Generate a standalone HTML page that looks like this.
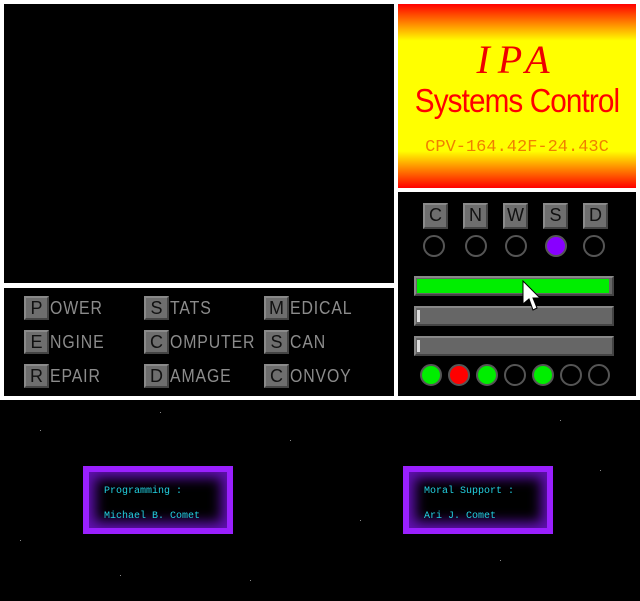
<!DOCTYPE html>
<html><head><style>
body{margin:0;width:640px;height:601px;background:#000;position:relative;overflow:hidden;font-family:"Liberation Mono",monospace}
div{position:absolute;box-sizing:border-box}
.k{width:25px;height:24px;background:#6e6e6e;border:2px solid;border-color:#8a8a8a #444 #444 #8a8a8a;color:#111;font-size:18px;text-align:center;line-height:20px;font-family:"Liberation Sans",sans-serif}
.t{color:#8c8c8c;font-size:18px;line-height:24px;font-family:"Liberation Sans",sans-serif;letter-spacing:1px;transform:scaleX(0.88);transform-origin:left}
.c{width:22px;height:22px;border-radius:50%;border:2px solid #555}
.bar{left:414px;width:200px;height:20px;background:#666;border:2px solid;border-color:#888 #444 #444 #888}
.pb{width:150px;height:68px;background:#000;border:2px solid #9a20ff;box-shadow:inset 0 0 0 4px #9a20ff,inset 0 0 12px 10px #6010b0;color:#22d0e0;font-size:10px}
.s{width:1px;height:1px;background:#888}
</style></head><body>
<div style="left:0;top:0;width:640px;height:400px;background:#fff"></div>
<div style="left:4px;top:4px;width:390px;height:279px;background:#000"></div>
<div style="left:4px;top:288px;width:390px;height:108px;background:#000"></div>
<div style="left:398px;top:4px;width:238px;height:184px;background:linear-gradient(#f00 0%,#ff0 20%,#ff0 80%,#f00 100%)"></div>
<div style="left:398px;top:192px;width:238px;height:204px;background:#000"></div>
<div style="left:398px;top:36px;width:238px;text-align:center;color:#e00;font:italic 40px 'Liberation Serif',serif;letter-spacing:8px">IPA</div>
<div style="left:398px;top:82px;width:238px;text-align:center;color:#f00;font-size:33px;font-family:'Liberation Sans',sans-serif;transform:scaleX(0.9);letter-spacing:-1px">Systems Control</div>
<div style="left:398px;top:138px;width:238px;text-align:center;color:#f08000;font-size:17px">CPV-164.42F-24.43C</div>

<div class="k" style="left:24px;top:296px">P</div><div class="t" style="left:50px;top:296px">OWER</div>
<div class="k" style="left:144px;top:296px">S</div><div class="t" style="left:170px;top:296px">TATS</div>
<div class="k" style="left:264px;top:296px">M</div><div class="t" style="left:290px;top:296px">EDICAL</div>
<div class="k" style="left:24px;top:330px">E</div><div class="t" style="left:50px;top:330px">NGINE</div>
<div class="k" style="left:144px;top:330px">C</div><div class="t" style="left:170px;top:330px">OMPUTER</div>
<div class="k" style="left:264px;top:330px">S</div><div class="t" style="left:290px;top:330px">CAN</div>
<div class="k" style="left:24px;top:364px">R</div><div class="t" style="left:50px;top:364px">EPAIR</div>
<div class="k" style="left:144px;top:364px">D</div><div class="t" style="left:170px;top:364px">AMAGE</div>
<div class="k" style="left:264px;top:364px">C</div><div class="t" style="left:290px;top:364px">ONVOY</div>

<div class="k" style="left:423px;top:203px;height:26px">C</div>
<div class="k" style="left:463px;top:203px;height:26px">N</div>
<div class="k" style="left:503px;top:203px;height:26px">W</div>
<div class="k" style="left:543px;top:203px;height:26px">S</div>
<div class="k" style="left:583px;top:203px;height:26px">D</div>
<div class="c" style="left:423px;top:235px"></div>
<div class="c" style="left:465px;top:235px"></div>
<div class="c" style="left:505px;top:235px"></div>
<div class="c" style="left:545px;top:235px;background:#80f"></div>
<div class="c" style="left:583px;top:235px"></div>

<div class="bar" style="top:276px"><div style="left:1px;top:1px;width:192px;height:14px;background:#0e0"></div></div>
<div class="bar" style="top:306px"><div style="left:1px;top:2px;width:3px;height:12px;background:#ddd"></div></div>
<div class="bar" style="top:336px"><div style="left:1px;top:2px;width:3px;height:12px;background:#ddd"></div></div>
<svg style="position:absolute;left:522px;top:280px" width="20" height="34"><path d="M1 1 L1 24 L7 19 L11 30 L15 28 L11 18 L18 18 Z" fill="#fff" stroke="#000"/></svg>

<div class="c" style="left:420px;top:364px;background:#0e0"></div>
<div class="c" style="left:448px;top:364px;background:#f00"></div>
<div class="c" style="left:476px;top:364px;background:#0e0"></div>
<div class="c" style="left:504px;top:364px"></div>
<div class="c" style="left:532px;top:364px;background:#0e0"></div>
<div class="c" style="left:560px;top:364px"></div>
<div class="c" style="left:588px;top:364px"></div>

<div class="s" style="left:40px;top:430px"></div><div class="s" style="left:160px;top:412px"></div><div class="s" style="left:290px;top:440px"></div><div class="s" style="left:360px;top:520px"></div><div class="s" style="left:600px;top:470px"></div><div class="s" style="left:250px;top:580px"></div><div class="s" style="left:500px;top:560px"></div><div class="s" style="left:20px;top:540px"></div><div class="s" style="left:560px;top:420px"></div><div class="s" style="left:120px;top:575px"></div>

<div class="pb" style="left:83px;top:466px"><div style="left:19px;top:18px">Programming :</div><div style="left:19px;top:43px">Michael B. Comet</div></div>
<div class="pb" style="left:403px;top:466px"><div style="left:19px;top:18px">Moral Support :</div><div style="left:19px;top:43px">Ari J. Comet</div></div>
</body></html>
